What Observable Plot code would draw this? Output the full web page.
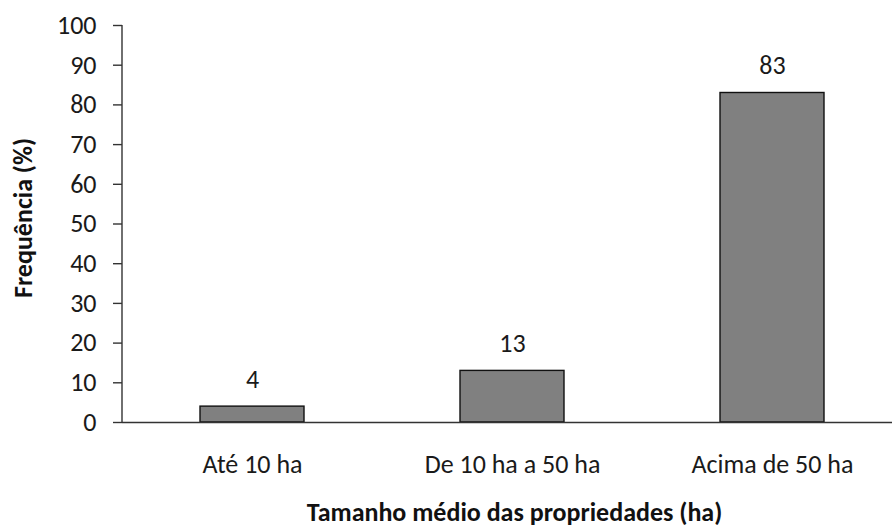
<!DOCTYPE html>
<html>
<head>
<meta charset="utf-8">
<script src="https://cdn.jsdelivr.net/npm/d3@7"></script>
<script src="https://cdn.jsdelivr.net/npm/@observablehq/plot@0.6"></script>
<style>
  html, body { margin: 0; padding: 0; background: #fff; }
  #chart svg { display: block; }
</style>
</head>
<body>
<div id="chart"></div>
<script>
// Property size classes and the share of properties in each (%)
const categories = ["Até 10 ha", "De 10 ha a 50 ha", "Acima de 50 ha"];
const frequencies = [4, 13, 83];
const yTicks = [0, 10, 20, 30, 40, 50, 60, 70, 80, 90, 100];
const xTitle = "Tamanho médio das propriedades (ha)";
const yTitle = "Frequência (%)";

const data = categories.map((c, i) => ({category: c, value: frequencies[i]}));

const font = "Carlito, 'Open Sans', sans-serif";
const axisColor = "#333";

// Vertical axis line drawn along the left edge of the frame, from y = 0 to y = 100
function yAxisLine(index, scales, values, dimensions) {
  const ns = "http://www.w3.org/2000/svg";
  const line = document.createElementNS(ns, "line");
  const x = dimensions.marginLeft;
  line.setAttribute("x1", x);
  line.setAttribute("x2", x);
  line.setAttribute("y1", scales.y(0));
  line.setAttribute("y2", scales.y(100));
  line.setAttribute("stroke", axisColor);
  line.setAttribute("stroke-width", 1.4);
  return line;
}

const chart = Plot.plot({
  width: 892,
  height: 527,
  marginLeft: 122,
  marginRight: 0,
  marginTop: 25,
  marginBottom: 105,
  style: {fontFamily: font, fontSize: "26px", color: "#1a1a1a", background: "#fff"},
  x: {domain: categories, range: [122, 902], paddingInner: 0.6, paddingOuter: 0.3},
  y: {domain: [0, 100]},
  marks: [
    Plot.barY(data, {x: "category", y: "value", fill: "#808080", stroke: "#111", strokeWidth: 1.4}),
    Plot.text(data, {x: "category", y: "value", text: d => String(d.value), lineAnchor: "bottom", dy: -19, fill: "#1a1a1a"}),
    // axes
    Plot.ruleY([0], {stroke: axisColor, strokeWidth: 1.4}),
    yAxisLine,
    Plot.axisY(yTicks, {tickSize: 9, tickPadding: 17, stroke: axisColor, strokeWidth: 1.4, label: null, fill: "#1a1a1a"}),
    Plot.axisX({tickSize: 0, tickPadding: 32, label: null, fill: "#1a1a1a"}),
    Plot.text([yTitle], {frameAnchor: "left", textAnchor: "middle", rotate: -90, dx: -109, dy: -6, lineAnchor: "top", fontWeight: "bold", fill: "#111"}),
    Plot.text([xTitle], {frameAnchor: "bottom", textAnchor: "middle", dx: 7, dy: 98, lineAnchor: "bottom", fontWeight: "bold", fill: "#111"})
  ]
});

document.getElementById("chart").appendChild(chart);
</script>
</body>
</html>
